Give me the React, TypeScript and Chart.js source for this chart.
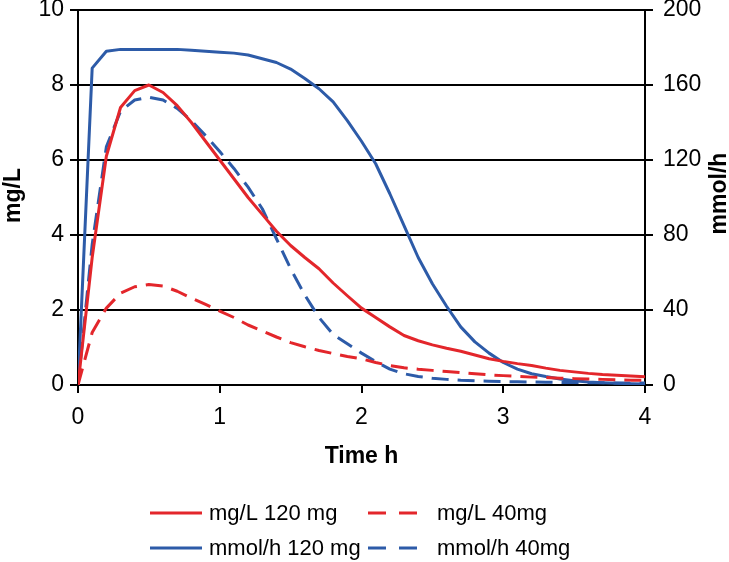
import React, { useEffect, useRef } from "react";
import { Chart, registerables } from "chart.js";

Chart.register(...registerables);

// ---- data ----
const timeH = [
  0, 0.1, 0.2, 0.3, 0.4, 0.5, 0.6, 0.7, 0.8, 0.9,
  1.0, 1.1, 1.2, 1.3, 1.4, 1.5, 1.6, 1.7, 1.8, 1.9,
  2.0, 2.1, 2.2, 2.3, 2.4, 2.5, 2.6, 2.7, 2.8, 2.9,
  3.0, 3.1, 3.2, 3.3, 3.4, 3.5, 3.6, 3.7, 3.8, 3.9, 4.0,
];
const mgL120 = [
  0, 3.4, 6.1, 7.4, 7.85, 8.0, 7.8, 7.45, 7.0, 6.5,
  6.0, 5.5, 5.0, 4.55, 4.1, 3.72, 3.4, 3.1, 2.72, 2.38,
  2.05, 1.8, 1.55, 1.32, 1.18, 1.07, 0.98, 0.9, 0.8, 0.7,
  0.63, 0.57, 0.52, 0.45, 0.39, 0.35, 0.31, 0.28, 0.26, 0.24, 0.22,
];
const mgL40 = [
  0, 1.4, 2.05, 2.45, 2.62, 2.68, 2.64, 2.5, 2.32, 2.15,
  1.97, 1.8, 1.6, 1.44, 1.28, 1.13, 1.02, 0.92, 0.84, 0.76,
  0.7, 0.6, 0.52, 0.46, 0.42, 0.39, 0.36, 0.33, 0.3, 0.27,
  0.25, 0.23, 0.21, 0.2, 0.18, 0.17, 0.16, 0.15, 0.14, 0.13, 0.13,
];
const mmol120 = [
  0, 169, 178, 179, 179, 179, 179, 179, 178.5, 178,
  177.5, 177, 176, 174, 172, 168.5, 163.5, 158, 151, 141,
  130, 118, 102, 85, 68, 54, 42, 31, 23, 17,
  12, 8.5, 6, 4.5, 3.2, 2.3, 1.6, 1.2, 0.9, 0.7, 0.5,
];
const mmol40 = [
  0, 75, 127, 146, 152, 153.5, 152, 147.5, 141, 133,
  124.5, 115.5, 105.5, 94, 78, 62, 48, 36, 27, 22,
  17, 12.5, 8.5, 6, 4.5, 3.6, 3, 2.5, 2.2, 2,
  1.8, 1.7, 1.6, 1.5, 1.4, 1.3, 1.2, 1.2, 1.1, 1.1, 1,
];
const seriesLabels = ["mg/L 120 mg", "mg/L 40mg", "mmol/h 120 mg", "mmol/h 40mg"];
const xTicks = [0, 1, 2, 3, 4];
const leftTicks = [0, 2, 4, 6, 8, 10];
const rightTicks = [0, 40, 80, 120, 160, 200];
const xTitle = "Time h";
const leftTitle = "mg/L";
const rightTitle = "mmol/h";

// ---- styles ----
const RED = "#E3262B";
const BLUE = "#2D5BA8";
const FONT = "Arial, 'Liberation Sans', sans-serif";
const DASH = [17, 9];

const toPoints = (ys: number[]) => timeH.map((t, i) => ({ x: t, y: ys[i] }));

const sidePlugin = {
  id: "sideDecor",
  afterDraw(chart: any) {
    const ctx = chart.ctx as CanvasRenderingContext2D;
    const area = chart.chartArea;
    const midY = (area.top + area.bottom) / 2;
    ctx.save();
    ctx.fillStyle = "#000";
    ctx.font = `bold 23px ${FONT}`;
    ctx.textAlign = "center";
    ctx.textBaseline = "middle";
    // left title
    ctx.save();
    ctx.translate(14, midY - 2);
    ctx.rotate(-Math.PI / 2);
    ctx.fillText(leftTitle, 0, 0);
    ctx.restore();
    // right title
    ctx.save();
    ctx.translate(720, midY - 4);
    ctx.rotate(-Math.PI / 2);
    ctx.fillText(rightTitle, 0, 0);
    ctx.restore();

    // legend (2 x 2 grid)
    const cols = [150, 368];
    const textOff = [59, 69];
    const rows = [513, 548];
    chart.data.datasets.forEach((d: any, i: number) => {
      const c = i % 2;
      const x = cols[c];
      const y = rows[Math.floor(i / 2)];
      ctx.strokeStyle = d.borderColor;
      ctx.lineWidth = 3;
      ctx.setLineDash(d.borderDash && d.borderDash.length ? [18, 13] : []);
      ctx.beginPath();
      ctx.moveTo(x, y);
      ctx.lineTo(x + 52, y);
      ctx.stroke();
      ctx.setLineDash([]);
      ctx.fillStyle = "#000";
      ctx.font = `22px ${FONT}`;
      ctx.textAlign = "left";
      ctx.textBaseline = "middle";
      ctx.fillText(d.label, x + textOff[c], y + 1);
    });
    ctx.restore();
  },
};

export default function App() {
  const ref = useRef<HTMLCanvasElement | null>(null);

  useEffect(() => {
    if (!ref.current) return;
    const tickFont = { family: FONT, size: 23, lineHeight: 1 };
    const chart = new Chart(ref.current, {
      type: "line",
      data: {
        datasets: [
          { label: seriesLabels[0], data: toPoints(mgL120), borderColor: RED, borderWidth: 3, yAxisID: "y" },
          { label: seriesLabels[1], data: toPoints(mgL40), borderColor: RED, borderWidth: 3, borderDash: DASH, yAxisID: "y" },
          { label: seriesLabels[2], data: toPoints(mmol120), borderColor: BLUE, borderWidth: 3, yAxisID: "y1" },
          { label: seriesLabels[3], data: toPoints(mmol40), borderColor: BLUE, borderWidth: 3, borderDash: DASH, yAxisID: "y1" },
        ],
      },
      options: {
        animation: false,
        responsive: false,
        devicePixelRatio: 1,
        elements: {
          point: { radius: 0, hoverRadius: 0 },
          line: { tension: 0, fill: false, borderCapStyle: "butt", borderJoinStyle: "round" },
        },
        layout: { padding: { top: 10, bottom: 88, left: 0, right: 0 } },
        plugins: { legend: { display: false }, tooltip: { enabled: false } },
        scales: {
          x: {
            type: "linear",
            min: 0,
            max: 4,
            afterBuildTicks: (s: any) => {
              s.ticks = xTicks.map((v) => ({ value: v }));
            },
            afterFit: (s: any) => {
              s.height = 89;
              s.paddingLeft = 0;
              s.paddingRight = 0;
            },
            grid: { drawOnChartArea: false, drawTicks: true, tickLength: 8, color: "#000", lineWidth: 2 },
            border: { display: true, color: "#000", width: 2 },
            ticks: { color: "#000", font: tickFont, padding: 13, maxRotation: 0 },
            title: {
              display: true,
              text: xTitle,
              color: "#000",
              font: { family: FONT, size: 23, weight: "bold", lineHeight: 0.8 },
              padding: { top: 0, bottom: 8 },
            },
          },
          y: {
            type: "linear",
            position: "left",
            min: 0,
            max: 10,
            afterBuildTicks: (s: any) => {
              s.ticks = leftTicks.map((v) => ({ value: v }));
            },
            afterFit: (s: any) => {
              s.width = 78;
              s.paddingTop = 0;
              s.paddingBottom = 0;
            },
            grid: { drawOnChartArea: true, drawTicks: true, tickLength: 8, color: "#000", lineWidth: 2 },
            border: { display: true, color: "#000", width: 2 },
            ticks: { color: "#000", font: tickFont, padding: 6 },
          },
          y1: {
            type: "linear",
            position: "right",
            min: 0,
            max: 200,
            afterBuildTicks: (s: any) => {
              s.ticks = rightTicks.map((v) => ({ value: v }));
            },
            afterFit: (s: any) => {
              s.width = 84;
              s.paddingTop = 0;
              s.paddingBottom = 0;
            },
            grid: { drawOnChartArea: false, drawTicks: true, tickLength: 8, color: "#000", lineWidth: 2 },
            border: { display: true, color: "#000", width: 2 },
            ticks: { color: "#000", font: tickFont, padding: 10 },
          },
        },
      },
      plugins: [sidePlugin],
    } as any);
    return () => chart.destroy();
  }, []);

  return (
    <div style={{ position: "absolute", left: 0, top: 0, width: 729, height: 562, background: "#fff" }}>
      <canvas ref={ref} width={729} height={562} style={{ display: "block", width: 729, height: 562 }} />
    </div>
  );
}
